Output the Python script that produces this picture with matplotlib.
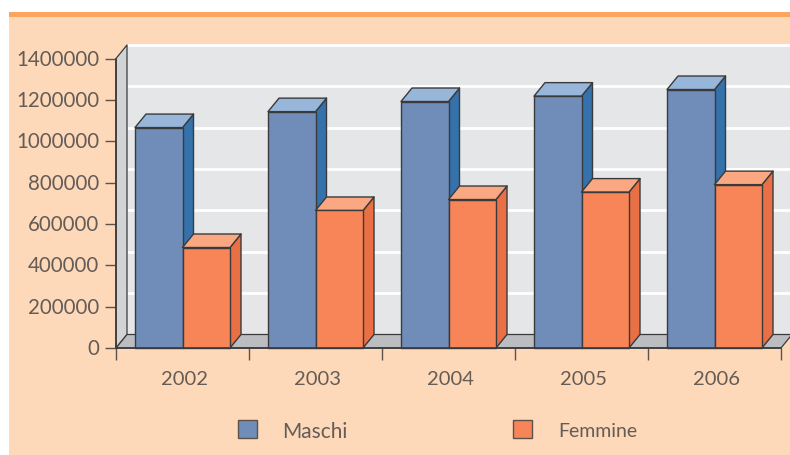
import matplotlib
matplotlib.use('Agg')
import matplotlib.pyplot as plt
from matplotlib.patches import Polygon, Rectangle

years = ['2002', '2003', '2004', '2005', '2006']
maschi = [1066000, 1143000, 1192000, 1218000, 1250000]
femmine = [486000, 665000, 718000, 754000, 790000]
y_ticks = [0, 200000, 400000, 600000, 800000, 1000000, 1200000, 1400000]

W, H = 790, 456
plt.rcParams['font.family'] = ['Lato', 'DejaVu Sans']
TEXT = '#655c56'
EDGE = '#3a3a3c'

fig = plt.figure(figsize=(W / 100, H / 100), dpi=100, facecolor='white')

# page background and orange band, in pixels from top left
def px_rect(x0, y0, x1, y1, z=-1, **kw):
    fig.add_artist(Rectangle((x0 / W, 1 - y1 / H), (x1 - x0) / W, (y1 - y0) / H,
                             transform=fig.transFigure, zorder=z, **kw))

px_rect(9, 13, W, H, facecolor='#fdd9ba', edgecolor='none')
px_rect(9, 12.5, W, 18, facecolor='#fba55f', edgecolor='none')

# axes is the front plane of the 3d box
left, right, top, bottom = 116, 781, 59.5, 349
ax = fig.add_axes([left / W, 1 - bottom / H, (right - left) / W, (bottom - top) / H])
ax.set_xlim(0, len(years))
ax.set_ylim(0, 1400000)
ax.patch.set_visible(False)

# depth of the box in data units
dx = 11 / 133
dy = 13.5 / (bottom - top) * 1400000
n = len(years)
ymax = 1400000


def poly(points, fc, ec=EDGE, lw=1.0, z=1):
    ax.add_patch(Polygon(points, closed=True, facecolor=fc, edgecolor=ec, linewidth=lw,
                         joinstyle='round', clip_on=False, zorder=z))


# back wall, side wall, floor
poly([(dx, dy), (n + dx, dy), (n + dx, ymax + dy), (dx, ymax + dy)], '#e5e6e8', ec='none', z=1)
for v in y_ticks[1:]:
    ax.plot([dx, n + dx], [v + dy, v + dy], color='white', lw=2, clip_on=False, zorder=1.5,
            solid_capstyle='butt')
poly([(0, 0), (dx, dy), (dx, ymax + dy), (0, ymax)], '#d1d3d5', ec=EDGE, lw=0.9, z=2)
poly([(0, 0), (n, 0), (n + dx, dy), (dx, dy)], '#bbbdc0', ec=EDGE, lw=0.9, z=2)


def bar3d(x0, x1, h, front, topc, side, z):
    poly([(x1, 0), (x1 + dx, dy), (x1 + dx, h + dy), (x1, h)], side, z=z)
    poly([(x0, h), (x1, h), (x1 + dx, h + dy), (x0 + dx, h + dy)], topc, z=z)
    poly([(x0, 0), (x1, 0), (x1, h), (x0, h)], front, z=z)


bw = 47.5 / 133
off = 19 / 133
for i in range(n):
    bar3d(i + off, i + off + bw, maschi[i], '#6f8db8', '#97b6da', '#3572ac', 3 + i)
    bar3d(i + off + bw, i + off + 2 * bw, femmine[i], '#f78557', '#faa882', '#e96f45', 3 + i + 0.5)

ax.set_yticks(y_ticks)
ax.set_yticklabels([str(v) for v in y_ticks], fontsize=14.8, color=TEXT, va='center')
for lab in ax.get_yticklabels():
    lab.set_y(lab.get_position()[1])
ax.set_xticks(range(n + 1))
ax.set_xticks([i + 0.5 + 2 / 133 for i in range(n)], minor=True)
ax.set_xticklabels([])
ax.set_xticklabels(years, minor=True, fontsize=14.5, color=TEXT)
ax.tick_params(axis='y', length=8, width=1, color='#5b524c', pad=4)
ax.tick_params(axis='x', which='major', length=8.5, width=1, color='#5b524c')
ax.tick_params(axis='x', which='minor', length=0, pad=15.5)
for s in ['top', 'right']:
    ax.spines[s].set_visible(False)
for s in ['left', 'bottom']:
    ax.spines[s].set_color(EDGE)
    ax.spines[s].set_linewidth(1.2)
    ax.spines[s].set_zorder(20)

# legend
px_rect(237.5, 420.5, 256.5, 439, z=5, facecolor='#6f8db8', edgecolor='#5b524c', linewidth=1)
px_rect(512.5, 420.5, 531.5, 439, z=5, facecolor='#f78557', edgecolor='#5b524c', linewidth=1)
fig.text(282 / W, 1 - 432 / H, 'Maschi', fontsize=15, color=TEXT, va='center')
fig.text(558 / W, 1 - 432 / H, 'Femmine', fontsize=14, color=TEXT, va='center')

fig.savefig('out.png', dpi=100, facecolor='white')
